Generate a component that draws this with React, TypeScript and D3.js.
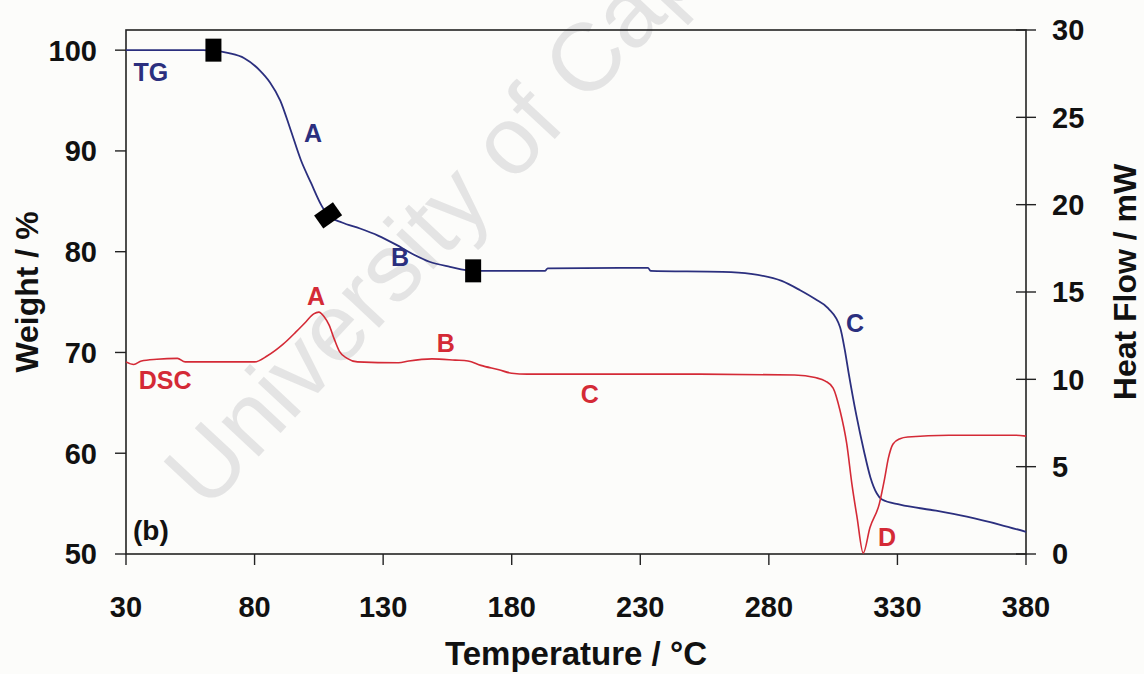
import React, { useEffect, useRef } from 'react';
import * as d3 from 'd3';

// TG curve (weight %, left axis)
const tgTemp = [30, 50, 60, 64, 70, 76, 82, 86, 90, 94, 98, 102, 106, 108.6, 114, 121, 128, 135, 142, 148, 156, 165, 193, 194, 233, 234, 262, 273, 285, 292, 298, 303, 307.7, 309.5, 311, 314, 317, 319.5, 322, 324, 331, 345, 357, 370, 380];
const tgWeight = [100, 100, 100, 99.95, 99.7, 99.2, 98.0, 96.8, 95.0, 92.1, 89.1, 86.8, 84.6, 83.6, 82.9, 82.3, 81.6, 80.7, 79.7, 79.0, 78.5, 78.1, 78.1, 78.35, 78.4, 78.1, 78.0, 77.8, 77.1, 76.2, 75.3, 74.4, 72.5, 70.3, 68.0, 63.8, 60.2, 57.6, 56.0, 55.4, 54.9, 54.3, 53.7, 52.9, 52.2];

// DSC curve (heat flow mW, right axis)
const dscTemp = [30, 33, 36, 42, 50, 53, 60, 80, 85, 91, 96, 100, 103, 105, 107, 109, 111, 113, 116, 120, 136, 140, 149, 158, 163, 168, 175, 180, 186, 200, 253, 290, 298, 302, 305, 307.7, 310.3, 312.3, 314.3, 316.7, 319.3, 323, 325, 326.5, 328.3, 331, 334, 350, 376, 380];
const dscHeat = [11.0, 10.85, 11.05, 11.15, 11.2, 11.0, 11.0, 11.0, 11.35, 12.0, 12.7, 13.3, 13.75, 13.85, 13.6, 13.1, 12.3, 11.6, 11.2, 11.0, 10.95, 11.05, 11.17, 11.1, 11.05, 10.8, 10.55, 10.35, 10.3, 10.3, 10.3, 10.25, 10.1, 9.9, 9.5, 8.2, 6.3, 4.0, 2.1, 0.05, 1.5, 2.9, 4.3, 5.5, 6.3, 6.6, 6.7, 6.8, 6.8, 6.75];

const xTicks = [30, 80, 130, 180, 230, 280, 330, 380];
const weightTicks = [50, 60, 70, 80, 90, 100];
const heatTicks = [0, 5, 10, 15, 20, 25, 30];

// stage markers on the TG curve
const markerTemp = [64, 108.6, 165];
const markerWeight = [100, 83.6, 78.1];

const tgLabels = ['TG', 'A', 'B', 'C'];
const tgLabelTemp = [39.7, 102.7, 136.6, 313.5];
const tgLabelWeight = [97.8, 91.8, 79.5, 72.9];

const dscLabels = ['DSC', 'A', 'B', 'C', 'D'];
const dscLabelTemp = [45.2, 103.9, 154.4, 210.4, 326];
const dscLabelHeat = [9.96, 14.77, 12.1, 9.16, 0.97];

export default function App() {
    const svgRef = useRef(null);

    const width = 1144;
    const height = 674;
    const left = 126, right = 1026, top = 30, bottom = 554;

    const blue = '#2b2f7e';
    const red = '#d42a36';
    const font = 'Liberation Sans, Arial, sans-serif';

    useEffect(() => {
        const svg = d3.select(svgRef.current);
        svg.selectAll('*').remove();

        svg.append('rect').attr('width', width).attr('height', height).attr('fill', '#fcfcfa');

        // watermark
        svg.append('text')
            .attr('transform', 'translate(207,512) rotate(-47)')
            .attr('font-family', font)
            .attr('font-size', 96)
            .attr('fill', '#e4e4e4')
            .text('University of Cape Town');

        const x = d3.scaleLinear().domain([30, 380]).range([left, right]);
        const yW = d3.scaleLinear().domain([50, 102]).range([bottom, top]);
        const yH = d3.scaleLinear().domain([0, 30]).range([bottom, top]);

        const axisColor = '#222';

        // frame
        svg.append('rect')
            .attr('x', left).attr('y', top)
            .attr('width', right - left).attr('height', bottom - top)
            .attr('fill', 'none').attr('stroke', axisColor).attr('stroke-width', 1.6);

        // x ticks
        svg.append('g').selectAll('line').data(xTicks).enter().append('line')
            .attr('x1', d => x(d)).attr('x2', d => x(d))
            .attr('y1', bottom).attr('y2', bottom + 11)
            .attr('stroke', axisColor).attr('stroke-width', 1.4);
        svg.append('g').selectAll('text').data(xTicks).enter().append('text')
            .attr('x', d => x(d)).attr('y', 617)
            .attr('text-anchor', 'middle')
            .attr('font-family', font).attr('font-weight', 'bold').attr('font-size', 29)
            .attr('fill', '#111')
            .text(d => d);

        // left ticks
        svg.append('g').selectAll('line').data(weightTicks).enter().append('line')
            .attr('x1', left - 11).attr('x2', left)
            .attr('y1', d => yW(d)).attr('y2', d => yW(d))
            .attr('stroke', axisColor).attr('stroke-width', 1.4);
        svg.append('g').selectAll('text').data(weightTicks).enter().append('text')
            .attr('x', 97).attr('y', d => yW(d)).attr('dy', '0.36em')
            .attr('text-anchor', 'end')
            .attr('font-family', font).attr('font-weight', 'bold').attr('font-size', 29)
            .attr('fill', '#111')
            .text(d => d);

        // right ticks
        svg.append('g').selectAll('line').data(heatTicks).enter().append('line')
            .attr('x1', right - 10).attr('x2', right + 10)
            .attr('y1', d => yH(d)).attr('y2', d => yH(d))
            .attr('stroke', axisColor).attr('stroke-width', 1.4);
        svg.append('g').selectAll('text').data(heatTicks).enter().append('text')
            .attr('x', 1052).attr('y', d => yH(d)).attr('dy', '0.36em')
            .attr('text-anchor', 'start')
            .attr('font-family', font).attr('font-weight', 'bold').attr('font-size', 29)
            .attr('fill', '#111')
            .text(d => d);

        // axis titles
        svg.append('text')
            .attr('x', (left + right) / 2).attr('y', 665)
            .attr('text-anchor', 'middle')
            .attr('font-family', font).attr('font-weight', 'bold').attr('font-size', 33)
            .attr('fill', '#111')
            .text('Temperature / °C');
        svg.append('text')
            .attr('transform', `translate(38,${(top + bottom) / 2}) rotate(-90)`)
            .attr('text-anchor', 'middle')
            .attr('font-family', font).attr('font-weight', 'bold').attr('font-size', 32)
            .attr('fill', '#111')
            .text('Weight / %');
        svg.append('text')
            .attr('transform', `translate(1136,${(top + bottom) / 2 - 10}) rotate(-90)`)
            .attr('text-anchor', 'middle')
            .attr('font-family', font).attr('font-weight', 'bold').attr('font-size', 32)
            .attr('fill', '#111')
            .text('Heat Flow / mW');

        // curves
        const tgLine = d3.line<number>()
            .x((d, i) => x(tgTemp[i]))
            .y(d => yW(d))
            .curve(d3.curveMonotoneX);
        svg.append('path')
            .attr('d', tgLine(tgWeight))
            .attr('fill', 'none').attr('stroke', blue).attr('stroke-width', 1.8);

        const dscLine = d3.line<number>()
            .x((d, i) => x(dscTemp[i]))
            .y(d => yH(d))
            .curve(d3.curveMonotoneX);
        svg.append('path')
            .attr('d', dscLine(dscHeat))
            .attr('fill', 'none').attr('stroke', red).attr('stroke-width', 1.6);

        // markers
        svg.append('g').selectAll('rect').data(markerTemp).enter().append('rect')
            .attr('x', -8).attr('y', -11.5)
            .attr('width', 16).attr('height', 23)
            .attr('transform', (d, i) => `translate(${x(d)},${yW(markerWeight[i])}) rotate(${i === 1 ? 55 : 0})`)
            .attr('fill', '#000');

        // annotations
        svg.append('g').selectAll('text').data(tgLabels).enter().append('text')
            .attr('x', (d, i) => x(tgLabelTemp[i]))
            .attr('y', (d, i) => yW(tgLabelWeight[i]))
            .attr('dy', '0.36em')
            .attr('text-anchor', 'middle')
            .attr('font-family', font).attr('font-weight', 'bold').attr('font-size', 25)
            .attr('fill', blue)
            .text(d => d);
        svg.append('g').selectAll('text').data(dscLabels).enter().append('text')
            .attr('x', (d, i) => x(dscLabelTemp[i]))
            .attr('y', (d, i) => yH(dscLabelHeat[i]))
            .attr('dy', '0.36em')
            .attr('text-anchor', 'middle')
            .attr('font-family', font).attr('font-weight', 'bold').attr('font-size', 25)
            .attr('fill', red)
            .text(d => d);

        svg.append('text')
            .attr('x', 133).attr('y', yW(52.4)).attr('dy', '0.36em')
            .attr('font-family', font).attr('font-weight', 'bold').attr('font-size', 28)
            .attr('fill', '#111')
            .text('(b)');
    }, []);

    return (
        <svg ref={svgRef} width={width} height={height}
            style={{ position: 'absolute', left: 0, top: 0 }}></svg>
    );
}
